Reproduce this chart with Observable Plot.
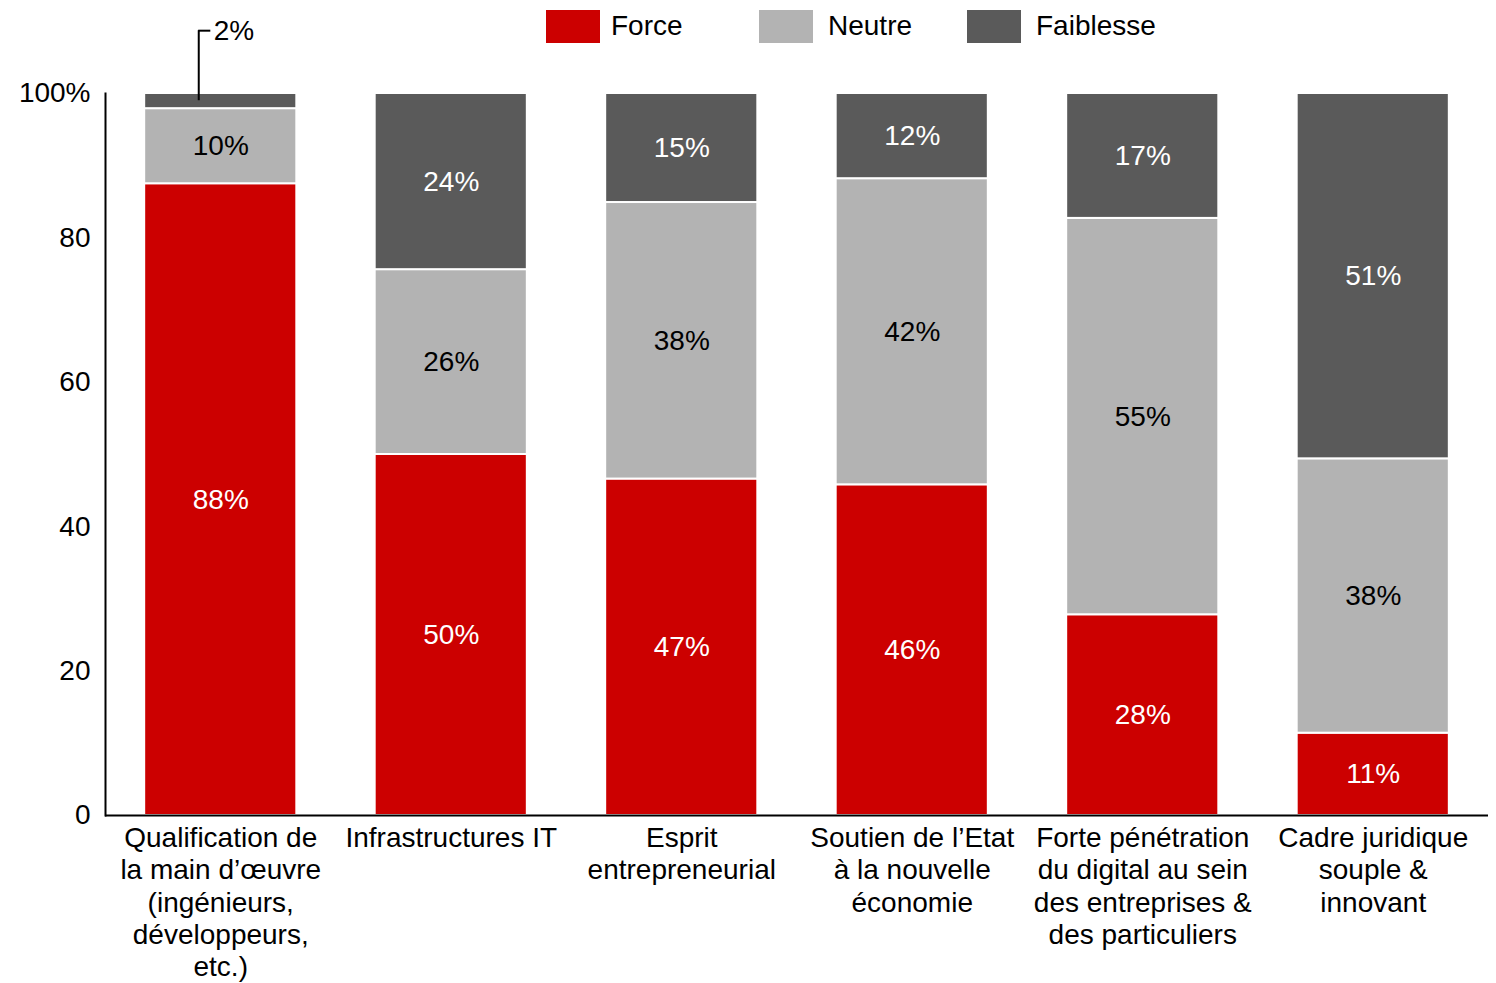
<!DOCTYPE html>
<html><head><meta charset="utf-8">
<script src="https://cdn.jsdelivr.net/npm/d3@7"></script>
<script src="https://cdn.jsdelivr.net/npm/@observablehq/plot@0.6"></script>
<style>
body{margin:0;background:#fff;font-family:"Liberation Sans",Arial,sans-serif;}
#wrap{position:relative;width:1496px;height:983px;}
#legend{position:absolute;top:0;left:0;width:1496px;height:50px;}
.sw{position:absolute;top:10px;width:54px;height:33px;}
.lt{position:absolute;top:8px;font-size:28px;line-height:36px;color:#000;white-space:nowrap;}
#chart{position:absolute;top:0;left:0;}
</style></head><body>
<div id="wrap"><div id="chart"></div><div id="legend"></div></div>
<script>
const categories = [
  "Qualification de\nla main d\u2019\u0153uvre\n(ing\u00e9nieurs,\nd\u00e9veloppeurs,\netc.)",
  "Infrastructures IT",
  "Esprit\nentrepreneurial",
  "Soutien de l\u2019Etat\n\u00e0 la nouvelle\n\u00e9conomie",
  "Forte p\u00e9n\u00e9tration\ndu digital au sein\ndes entreprises &\ndes particuliers",
  "Cadre juridique\nsouple &\ninnovant"
];
const series = ["Force", "Neutre", "Faiblesse"];
const force = [87.5, 50.0, 46.6, 45.8, 27.8, 11.4];
const neutre = [10.4, 25.6, 38.3, 42.4, 54.9, 38.0];
const faiblesse = [2.1, 24.4, 15.1, 11.8, 17.3, 50.6];
const colors = ["#CC0000", "#B3B3B3", "#5A5A5A"];
const yTicks = [0, 20, 40, 60, 80, 100];

const valuesBySeries = [force, neutre, faiblesse];
const rows = categories.flatMap((c, i) => series.map((s, j) => ({
  cat: c, series: s, value: valuesBySeries[j][i], idx: i
})));
const pct = d => Math.round(d.value) + "%";
const isCallout = d => d.idx === 0 && d.series === "Faiblesse";

// Legend
const legend = document.getElementById("legend");
const swX = [546, 759, 967], txX = [611, 828, 1036];
series.forEach((s, j) => {
  const sw = document.createElement("div");
  sw.className = "sw"; sw.style.left = swX[j] + "px"; sw.style.background = colors[j];
  legend.appendChild(sw);
  const t = document.createElement("div");
  t.className = "lt"; t.style.left = txX[j] + "px"; t.textContent = s;
  legend.appendChild(t);
});

const plot = Plot.plot({
  width: 1496, height: 983,
  marginTop: 93, marginBottom: 168, marginLeft: 105, marginRight: 8,
  style: {fontFamily: "'Liberation Sans', Arial, sans-serif", fontSize: "28px", background: "white", overflow: "visible"},
  x: {domain: categories, paddingInner: 0.34, paddingOuter: 0.17, round: false, axis: null},
  y: {domain: [0, 100], axis: null},
  color: {domain: series, range: colors},
  marks: [
    Plot.barY(rows, {x: "cat", y: "value", z: "series", fill: "series", stroke: "white", strokeWidth: 2}),
    Plot.text(rows, Plot.stackY({x: "cat", y: "value", z: "series",
      text: d => (d.series !== "Neutre" && !isCallout(d)) ? pct(d) : "", fill: "white", fontSize: 28})),
    Plot.text(rows, Plot.stackY({x: "cat", y: "value", z: "series",
      text: d => d.series === "Neutre" ? pct(d) : "", fill: "black", fontSize: 28})),
    Plot.axisY({ticks: yTicks, tickSize: 0, tickPadding: 15, fontSize: 28, fill: "black", label: null,
      tickFormat: d => d === 100 ? "100%" : String(d)}),
    Plot.frame({anchor: "left", strokeWidth: 2, stroke: "black"}),
    Plot.ruleY([0], {stroke: "black", strokeWidth: 2}),
    Plot.text(categories, {x: d => d, frameAnchor: "bottom", lineAnchor: "top", dy: 8,
      lineHeight: 1.16, fontSize: 28, fill: "black"}),
    // callout for the small 2% segment
    Plot.ruleX([categories[0]], {x: d => d, y1: 99, y2: 108.7, dx: -22, stroke: "black", strokeWidth: 2}),
    Plot.tickY([categories[0]], {x: d => d, y: 108.7, insetLeft: 54, insetRight: 86, stroke: "black", strokeWidth: 2}),
    Plot.text(rows.filter(isCallout), {x: "cat", y: 108.7, text: pct, textAnchor: "start", dx: -7, fill: "black", fontSize: 28})
  ]
});
document.getElementById("chart").appendChild(plot);
</script>
</body></html>
